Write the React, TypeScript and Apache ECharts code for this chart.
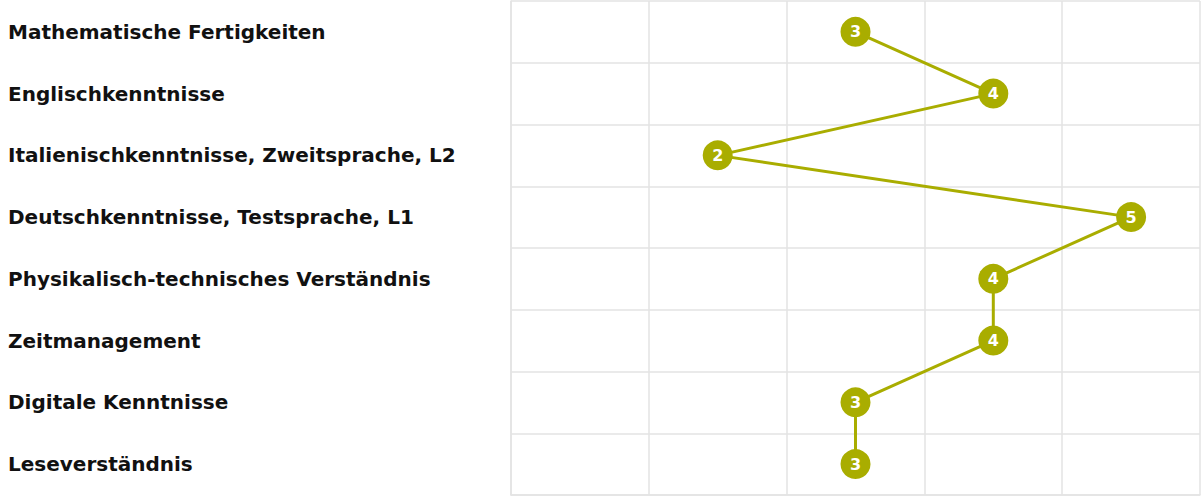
import React, { useEffect, useRef } from "react";
import * as echarts from "echarts";

const categories = [
  "Mathematische Fertigkeiten",
  "Englischkenntnisse",
  "Italienischkenntnisse, Zweitsprache, L2",
  "Deutschkenntnisse, Testsprache, L1",
  "Physikalisch-technisches Verständnis",
  "Zeitmanagement",
  "Digitale Kenntnisse",
  "Leseverständnis",
];
const scores = [3, 4, 2, 5, 4, 4, 3, 3];
const levels = ["1", "2", "3", "4", "5"];

export default function App() {
  const ref = useRef<HTMLDivElement>(null);
  useEffect(() => {
    document.body.style.margin = "0";
    const chart = echarts.init(ref.current!, null, { renderer: "svg" });
    const color = "#a9ad00";
    chart.setOption({
      animation: false,
      grid: { left: 511, right: 2, top: 1, bottom: 4 },
      xAxis: {
        type: "category",
        data: levels,
        boundaryGap: true,
        axisLabel: { show: false },
        axisTick: { show: false },
        axisLine: { show: true, lineStyle: { color: "#e3e3e3", width: 1.5 } },
        splitLine: { show: true, lineStyle: { color: "#e3e3e3", width: 1.5 } },
      },
      yAxis: {
        type: "category",
        data: categories,
        inverse: true,
        boundaryGap: true,
        axisTick: { show: false },
        axisLine: { show: true, lineStyle: { color: "#e3e3e3", width: 1.5 } },
        splitLine: { show: true, lineStyle: { color: "#e3e3e3", width: 1.5 } },
        axisLabel: {
          align: "left",
          margin: 503,
          color: "#111111",
          fontWeight: "bold",
          fontSize: 20,
          fontFamily: "DejaVu Sans",
        },
      },
      series: [
        {
          type: "line",
          data: scores.map((s, i) => [String(s), categories[i]]),
          symbol: "circle",
          symbolSize: 30,
          lineStyle: { color, width: 3 },
          itemStyle: { color },
          label: {
            show: true,
            position: "inside",
            formatter: (p: any) => p.value[0],
            color: "#ffffff",
            fontSize: 16,
            fontWeight: "bold",
            fontFamily: "DejaVu Sans",
          },
        },
      ],
    });
    return () => chart.dispose();
  }, []);
  return <div ref={ref} style={{ width: 1202, height: 499 }} />;
}
